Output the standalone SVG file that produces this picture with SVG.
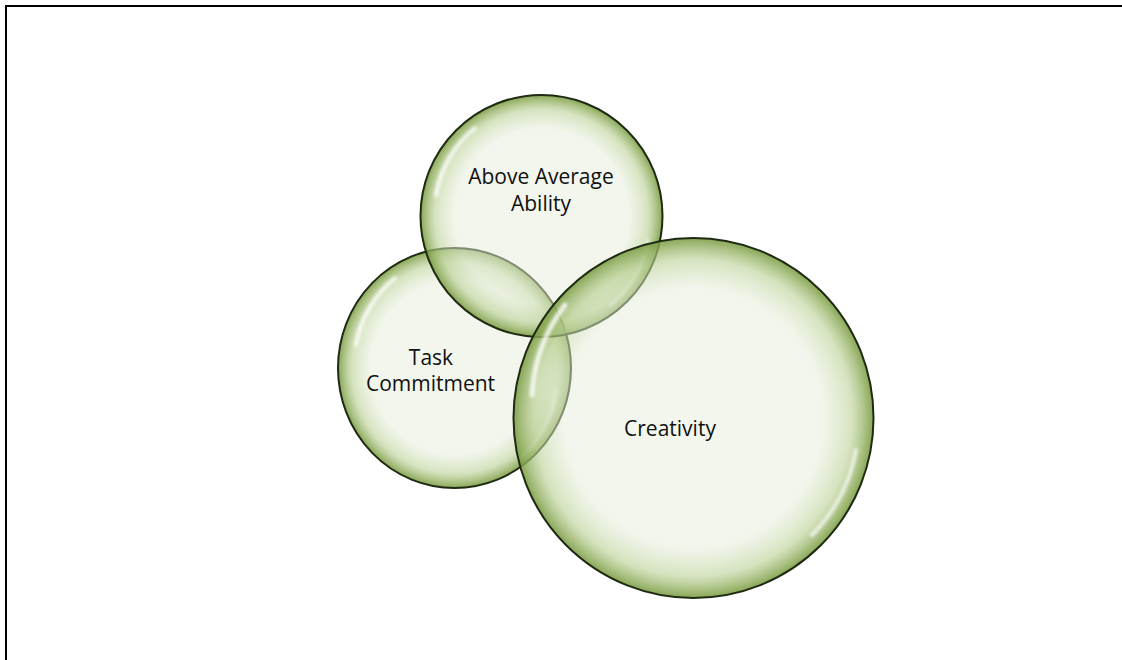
<svg xmlns="http://www.w3.org/2000/svg" width="1122" height="660" viewBox="0 0 1122 660">
  <style>
    .lbl { font-family: "Open Sans", "Liberation Sans", sans-serif; font-size: 21px; fill: #111; text-anchor: middle; }
    .bub { fill: url(#bubFill); stroke: #1f2a12; stroke-width: 2; }
    .hl { fill: none; stroke: #ffffff; stroke-linecap: round; filter: url(#soft); }
  </style>
  <defs>
    <radialGradient id="bubFill" cx="0.5" cy="0.5" r="0.5">
      <stop offset="0" stop-color="#e6eedb" stop-opacity="0.5"/>
      <stop offset="0.72" stop-color="#e4ecd8" stop-opacity="0.5"/>
      <stop offset="0.88" stop-color="#bcd298" stop-opacity="0.62"/>
      <stop offset="1" stop-color="#789a3e" stop-opacity="0.88"/>
    </radialGradient>
    <filter id="soft" x="-20%" y="-20%" width="140%" height="140%">
      <feGaussianBlur stdDeviation="1.6"/>
    </filter>
  </defs>

  <rect x="6" y="6" width="1130" height="670" fill="none" stroke="#000" stroke-width="2"/>

  <g id="node-task">
    <ellipse class="bub" cx="454.5" cy="368" rx="116.5" ry="120"/>
    <path class="hl" d="M 356 345 A 104 108 0 0 1 395 278" stroke-width="4" opacity="0.8"/>
    <path class="hl" d="M 556 390 A 104 108 0 0 1 520 458" stroke-width="3" opacity="0.6"/>
    <text class="lbl" y="365"><tspan x="431">Task</tspan><tspan x="430.5" y="390.5">Commitment</tspan></text>
  </g>

  <g id="node-ability">
    <circle class="bub" cx="541.5" cy="216" r="121"/>
    <path class="hl" d="M 436 195 A 108 108 0 0 1 475 128" stroke-width="4" opacity="0.8"/>
    <path class="hl" d="M 648 240 A 108 108 0 0 1 610 305" stroke-width="3" opacity="0.6"/>
    <text class="lbl" y="184"><tspan x="541">Above Average</tspan><tspan x="541" y="211">Ability</tspan></text>
  </g>

  <g id="node-creativity">
    <circle class="bub" cx="693.5" cy="418" r="180"/>
    <path class="hl" d="M 532 395 A 163 163 0 0 1 565 305" stroke-width="5" opacity="0.8"/>
    <path class="hl" d="M 856 450 A 163 163 0 0 1 812 535" stroke-width="4" opacity="0.7"/>
    <text class="lbl" x="670" y="436">Creativity</text>
  </g>

  <g id="connectors"></g>
</svg>
